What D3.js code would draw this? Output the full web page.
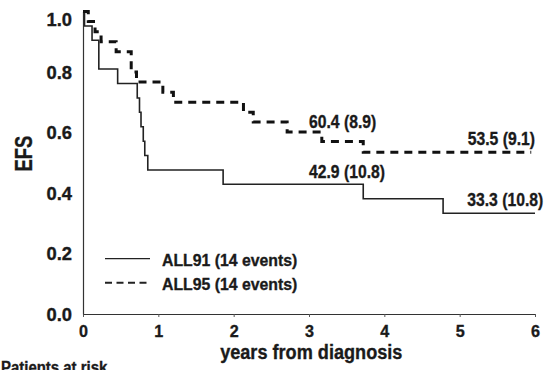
<!DOCTYPE html>
<html>
<head>
<meta charset="utf-8">
<script src="https://cdn.jsdelivr.net/npm/d3@7"></script>
<style>
  body { margin: 0; background: #fff; }
  svg { display: block; }
  text { font-family: "Liberation Sans", Arial, sans-serif; font-weight: bold; fill: #1a1a1a; stroke: #1a1a1a; stroke-width: 0.35px; }
</style>
</head>
<body>
<div id="chart"></div>
<script>
// survival steps: [years, EFS]
const all91 = [[0, 1], [0.02, 0.952], [0.12, 0.905], [0.21, 0.810], [0.46, 0.762], [0.72, 0.714],
    [0.75, 0.667], [0.77, 0.619], [0.80, 0.571], [0.82, 0.524], [0.86, 0.476], [1.86, 0.429],
    [3.72, 0.381], [4.78, 0.333], [6.0, 0.333]];
const all95 = [[0, 1], [0.07, 0.967], [0.16, 0.933], [0.24, 0.900], [0.44, 0.867], [0.64, 0.800],
    [0.71, 0.767], [1.06, 0.733], [1.20, 0.700], [2.13, 0.667], [2.26, 0.635], [2.71, 0.602],
    [3.17, 0.570], [3.72, 0.535], [5.95, 0.535]];

const seriesNames = ["ALL91 (14 events)", "ALL95 (14 events)"];
// [x in years, y value, text]
const labels91 = [[3.0, 0.451, "42.9 (10.8)"], [6.11, 0.358, "33.3 (10.8)"]];
const labels95 = [[3.0, 0.614, "60.4 (8.9)"], [6.0, 0.558, "53.5 (9.1)"]];
const xTicks = [0, 1, 2, 3, 4, 5, 6];
const yTicks = [0, 0.2, 0.4, 0.6, 0.8, 1.0];

const width = 548, height = 370;
const marginLeft = 83, marginRight = 13, marginTop = 11.5, marginBottom = 56;

const svg = d3.select("#chart").append("svg")
    .attr("width", width)
    .attr("height", height)
    .attr("viewBox", [0, 0, width, height]);

// squeeze text horizontally around its anchor so it looks like a condensed face
function condense(sel, k) {
    sel.each(function () {
        const t = d3.select(this);
        const ax = +(t.attr("x") || 0);
        const prev = t.attr("transform") || "";
        t.attr("transform", `${prev} translate(${ax * (1 - k)},0) scale(${k},1)`);
    });
}

const x = d3.scaleLinear().domain([0, 6]).range([marginLeft, width - marginRight]);
const y = d3.scaleLinear().domain([0, 1]).range([height - marginBottom, marginTop]);

// x axis
const gx = svg.append("g")
    .attr("transform", `translate(0,${y(0)})`)
    .call(d3.axisBottom(x).tickValues(xTicks).tickFormat(d3.format("d")).tickSize(3).tickSizeOuter(0).tickPadding(7));
gx.select(".domain").attr("stroke", "#333").attr("stroke-width", 1.2);
gx.selectAll(".tick line").attr("stroke", "#555");
gx.selectAll(".tick text").attr("font-size", 17).attr("dy", "0.74em").call(condense, 0.95);

// y axis
const gy = svg.append("g")
    .attr("transform", `translate(${x(0)},0)`)
    .call(d3.axisLeft(y).tickValues(yTicks).tickFormat(d3.format(".1f")).tickSize(0).tickSizeOuter(0).tickPadding(11));
gy.select(".domain").attr("stroke", "#333").attr("stroke-width", 1.2);
gy.selectAll(".tick text").attr("font-size", 18)
    .attr("dy", d => d === 1 ? "0.8em" : "0.36em")
    .call(condense, 1.02);

// axis titles
svg.append("text")
    .attr("transform", `translate(32,${y(0.53)}) rotate(-90)`)
    .attr("text-anchor", "middle")
    .attr("font-size", 23)
    .text("EFS")
    .call(condense, 0.8);

svg.append("text")
    .attr("x", x(3.03))
    .attr("y", 359)
    .attr("text-anchor", "middle")
    .attr("font-size", 19.5)
    .text("years from diagnosis")
    .call(condense, 0.93);

svg.append("text")
    .attr("x", 1)
    .attr("y", 373)
    .attr("font-size", 17)
    .text("Patients at risk")
    .call(condense, 0.88);

// curves
const line = d3.line()
    .x(d => x(d[0]))
    .y(d => y(d[1]))
    .curve(d3.curveStepAfter);

svg.append("path")
    .datum(all91)
    .attr("fill", "none")
    .attr("stroke", "#222")
    .attr("stroke-width", 1.6)
    .attr("d", line);

svg.append("path")
    .datum(all95)
    .attr("fill", "none")
    .attr("stroke", "#111")
    .attr("stroke-width", 3)
    .attr("stroke-dasharray", "8,6")
    .attr("d", line);

// value labels
svg.selectAll(".lab")
    .data(labels91.concat(labels95))
    .enter().append("text")
    .attr("class", "lab")
    .attr("x", d => x(d[0]))
    .attr("y", d => y(d[1]))
    .attr("text-anchor", d => d[0] > 5 ? "end" : "start")
    .attr("font-size", 18.5)
    .text(d => d[2])
    .call(condense, 0.85);

// legend
const legend = svg.append("g");
const legendY = [0.18, 0.1];
legend.selectAll("line")
    .data(seriesNames)
    .enter().append("line")
    .attr("x1", 105).attr("x2", 150)
    .attr("y1", (d, i) => y(legendY[i]) - 1)
    .attr("y2", (d, i) => y(legendY[i]) - 1)
    .attr("stroke", "#222")
    .attr("stroke-width", (d, i) => i ? 2 : 1.2)
    .attr("stroke-dasharray", (d, i) => i ? "7,4.5" : null);
legend.selectAll("text")
    .data(seriesNames)
    .enter().append("text")
    .attr("x", 162)
    .attr("y", (d, i) => y(legendY[i]) + 6)
    .attr("font-size", 17)
    .text(d => d)
    .call(condense, 0.93);
</script>
</body>
</html>
